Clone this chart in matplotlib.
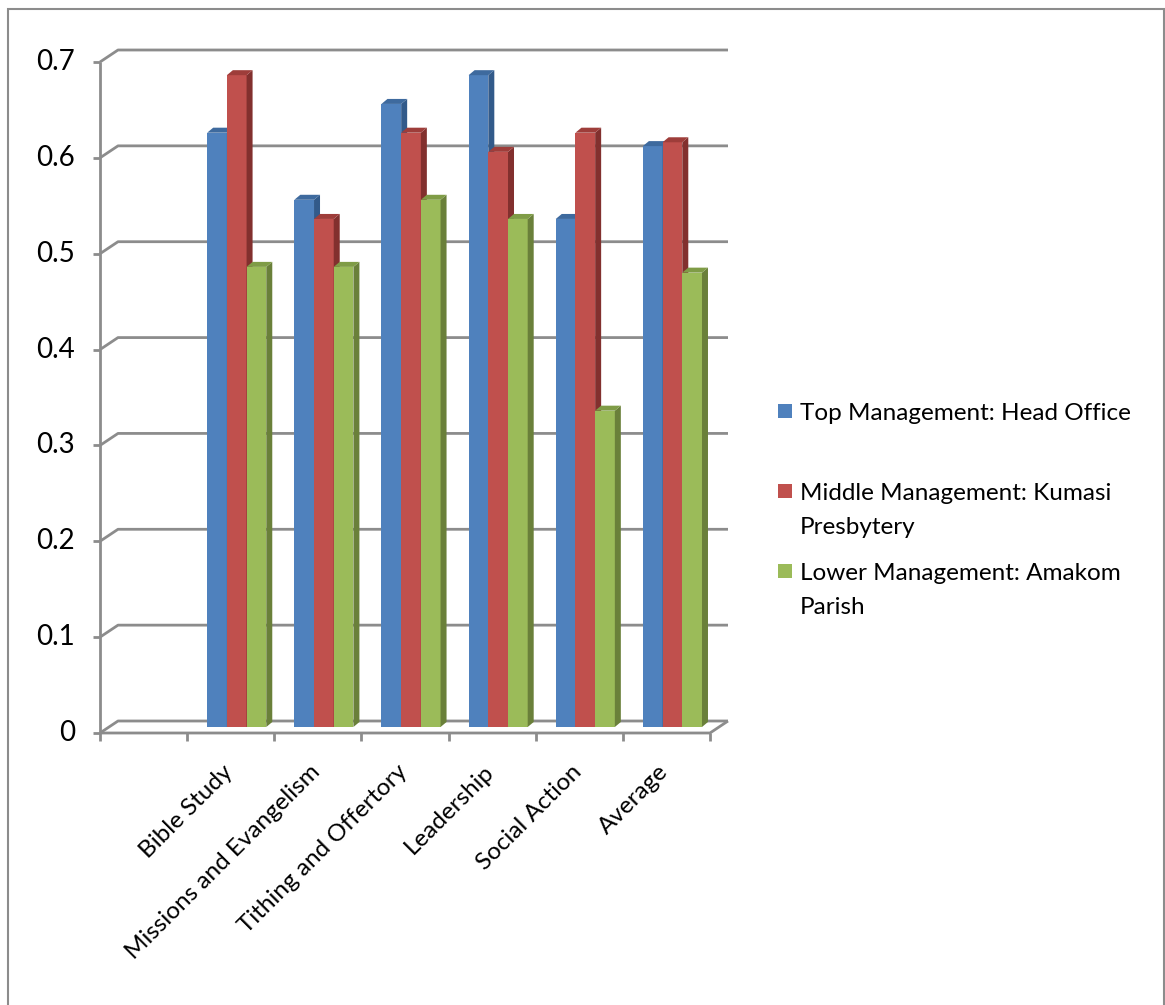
import matplotlib
matplotlib.use("Agg")
import matplotlib.pyplot as plt
from matplotlib.patches import Polygon, Rectangle

# Data
categories = ["", "Bible Study", "Missions and Evangelism", "Tithing and Offertory",
              "Leadership", "Social Action", "Average"]
series_names = ["Top Management: Head Office",
                "Middle Management: Kumasi\nPresbytery",
                "Lower Management: Amakom\nParish"]
top_mgmt = [None, 0.62, 0.55, 0.65, 0.68, 0.53, 0.606]
middle_mgmt = [None, 0.68, 0.53, 0.62, 0.60, 0.62, 0.61]
lower_mgmt = [None, 0.48, 0.48, 0.55, 0.53, 0.33, 0.474]
yticks = [0, 0.1, 0.2, 0.3, 0.4, 0.5, 0.6, 0.7]

front_colors = ["#4F81BD", "#C0504D", "#9BBB59"]
side_colors = ["#325A8A", "#82302E", "#6A803A"]
top_colors = ["#3E6A9E", "#9E3D3A", "#7F9C46"]
grid_col = "#8C8C8C"
font = ["Lato", "DejaVu Sans"]

W, H = 1165, 1005
fig = plt.figure(figsize=(W / 100, H / 100), dpi=100)

# outer chart border
fig.patches.append(Rectangle((8 / W, -0.01), 1156 / W, (H - 9) / H + 0.01,
                             transform=fig.transFigure, fill=False,
                             edgecolor="#8C8C8C", linewidth=1.5))

ax = fig.add_axes([100 / W, (H - 733) / H, 610 / W, 671 / H])
ax.set_xlim(0, len(categories))
ax.set_ylim(0, 0.7)
ax.axis("off")

px_x = 610 / len(categories)   # px per category
px_y = 671 / 0.7               # px per unit
bdx, bdy = 18 / px_x, 12 / px_y   # back wall offset
gl = dict(color=grid_col, linewidth=2, clip_on=False, solid_capstyle="butt")

# back wall gridlines + left diagonal + ticks
for t in yticks:
    ax.plot([0, bdx, len(categories) + bdx], [t, t + bdy, t + bdy], **gl)
    ax.plot([-7 / px_x, 0], [t, t], **gl)
    ax.text(-25 / px_x, t, f"{t:g}", ha="right", va="center", fontsize=20,
            family=font)
ax.plot([0, 0], [0, 0.7], **gl)
# floor front edge and right diagonal
ax.plot([0, len(categories), len(categories) + bdx], [0, 0, bdy], **gl)
for i in range(len(categories) + 1):
    ax.plot([i, i], [0, -8 / px_y], **gl)

# category labels
for i, c in enumerate(categories):
    if c:
        ax.text(i + 0.5 + 6 / px_x, -28 / px_y, c, rotation=45, ha="right",
                va="top", fontsize=17.5, family=font)

# bars with a small 3D look
base = 6 / px_y
off = 0.23
w = 0.226
ddx, ddy = 6 / px_x, 5 / px_y
series = [top_mgmt, middle_mgmt, lower_mgmt]
z = 3
for i in range(len(categories)):
    for s, vals in enumerate(series):
        v = vals[i]
        if v is None:
            continue
        x0 = i + off + s * w
        ax.bar(x0, v, width=w, bottom=base, align="edge", color=front_colors[s],
               edgecolor="none", zorder=z, clip_on=False)
        x1, y0, y1 = x0 + w, base, base + v
        ax.add_patch(Polygon([(x1, y0), (x1 + ddx, y0 + ddy), (x1 + ddx, y1 + ddy), (x1, y1)],
                             closed=True, facecolor=side_colors[s], edgecolor="none",
                             zorder=z, clip_on=False))
        ax.add_patch(Polygon([(x0, y1), (x0 + ddx, y1 + ddy), (x1 + ddx, y1 + ddy), (x1, y1)],
                             closed=True, facecolor=top_colors[s], edgecolor="none",
                             zorder=z, clip_on=False))
        z += 1

# legend
leg_y = [411, 491, 571]
for s, name in enumerate(series_names):
    y = leg_y[s]
    fig.patches.append(Rectangle((778 / W, (H - y - 7) / H), 14 / W, 14 / H,
                                 transform=fig.transFigure, facecolor=front_colors[s],
                                 edgecolor="none"))
    fig.text(800 / W, (H - y + 8) / H, name, ha="left", va="top", fontsize=17.5,
             family=font, linespacing=1.75)

fig.savefig("out.png", dpi=100)
